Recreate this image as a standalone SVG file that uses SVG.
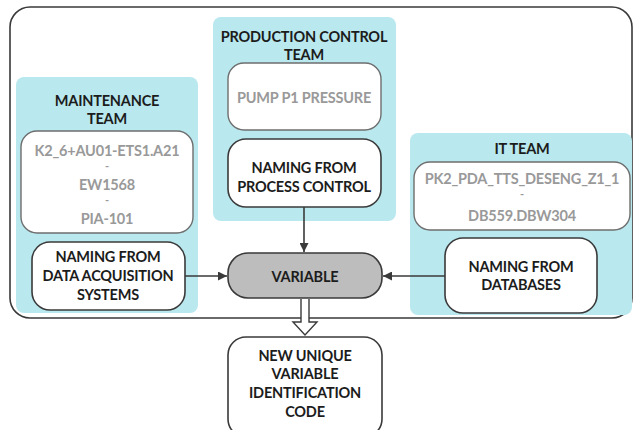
<svg xmlns="http://www.w3.org/2000/svg" width="634" height="430" viewBox="0 0 634 430">
  <style>
    .team { fill: #b9e8ef; }
    .box { fill: #ffffff; stroke: #3a3a3a; stroke-width: 1.6; }
    .vals { fill: #ffffff; stroke: #6e6e6e; stroke-width: 1.4; }
    .core { fill: #bdbdbd; stroke: #3a3a3a; stroke-width: 1.6; }
    text { font-family: Lato, "Open Sans", "Liberation Sans", sans-serif; font-weight: bold; text-anchor: middle; font-size: 14.5px; letter-spacing: -0.2px; }
    .title, .lbl { fill: #1c1c1c; }
    .val { fill: #999999; }
    .dash { fill: #999999; font-size: 11px; }
    .conn { stroke: #3a3a3a; stroke-width: 1.6; fill: none; }
  </style>
  <defs>
    <marker id="arr" viewBox="0 0 10 10" refX="10" refY="5" markerWidth="9" markerHeight="9" markerUnits="userSpaceOnUse" orient="auto">
      <path d="M0,0 L10,5 L0,10 z" fill="#3a3a3a"/>
    </marker>
  </defs>

  <!-- enclosing frame -->
  <rect x="10" y="7" width="622" height="311" rx="20" fill="#ffffff" stroke="#3a3a3a" stroke-width="1.6"/>

  <g id="maintenance-team">
    <rect class="team" x="16" y="77" width="182" height="236" rx="8"/>
    <text class="title" x="107" y="106">MAINTENANCE</text>
    <text class="title" x="107" y="124">TEAM</text>
    <rect class="vals" x="21" y="131" width="172" height="102" rx="16"/>
    <text class="val" x="107" y="156">K2_6+AU01-ETS1.A21</text>
    <text class="dash" x="107" y="170">-</text>
    <text class="val" x="107" y="190">EW1568</text>
    <text class="dash" x="107" y="204">-</text>
    <text class="val" x="107" y="224">PIA-101</text>
  </g>

  <g id="naming-daq">
    <rect class="box" x="32" y="242" width="153" height="68" rx="18"/>
    <text class="lbl" x="108" y="262">NAMING FROM</text>
    <text class="lbl" x="108" y="281">DATA ACQUISITION</text>
    <text class="lbl" x="108" y="300">SYSTEMS</text>
  </g>

  <g id="production-team">
    <rect class="team" x="213" y="17" width="183" height="204" rx="8"/>
    <text class="title" x="304" y="42">PRODUCTION CONTROL</text>
    <text class="title" x="304" y="60">TEAM</text>
    <rect class="vals" x="228" y="63" width="153" height="67" rx="16"/>
    <text class="val" x="304" y="103">PUMP P1 PRESSURE</text>
  </g>

  <g id="naming-process">
    <rect class="box" x="228" y="139" width="153" height="68" rx="18"/>
    <text class="lbl" x="304" y="173">NAMING FROM</text>
    <text class="lbl" x="304" y="192">PROCESS CONTROL</text>
  </g>

  <g id="it-team">
    <rect class="team" x="410" y="133" width="222" height="182" rx="8"/>
    <text class="title" x="522" y="154">IT TEAM</text>
    <rect class="vals" x="414" y="162" width="216" height="68" rx="16"/>
    <text class="val" x="522" y="184">PK2_PDA_TTS_DESENG_Z1_1</text>
    <text class="dash" x="522" y="198">-</text>
    <text class="val" x="522" y="221">DB559.DBW304</text>
  </g>

  <g id="naming-db">
    <rect class="box" x="445" y="238" width="152" height="75" rx="18"/>
    <text class="lbl" x="521" y="272">NAMING FROM</text>
    <text class="lbl" x="521" y="290">DATABASES</text>
  </g>

  <g id="variable">
    <rect class="core" x="228" y="253" width="154" height="45" rx="20"/>
    <text class="lbl" x="305" y="282">VARIABLE</text>
  </g>

  <g id="unique-code">
    <rect class="box" x="228" y="337" width="154" height="100" rx="18"/>
    <text class="lbl" x="305" y="361">NEW UNIQUE</text>
    <text class="lbl" x="305" y="379">VARIABLE</text>
    <text class="lbl" x="305" y="398">IDENTIFICATION</text>
    <text class="lbl" x="305" y="417">CODE</text>
  </g>

  <g id="connectors">
    <line class="conn" x1="304" y1="207" x2="304" y2="252" marker-end="url(#arr)"/>
    <line class="conn" x1="185" y1="276" x2="227" y2="276" marker-end="url(#arr)"/>
    <line class="conn" x1="445" y1="276" x2="383" y2="276" marker-end="url(#arr)"/>
    <!-- hollow block arrow to the unique code -->
    <path d="M301,299 L301,322 L293,322 L305,335 L317,322 L309,322 L309,299" fill="#ffffff" stroke="#3a3a3a" stroke-width="1.4" stroke-linejoin="miter"/>
  </g>
</svg>
